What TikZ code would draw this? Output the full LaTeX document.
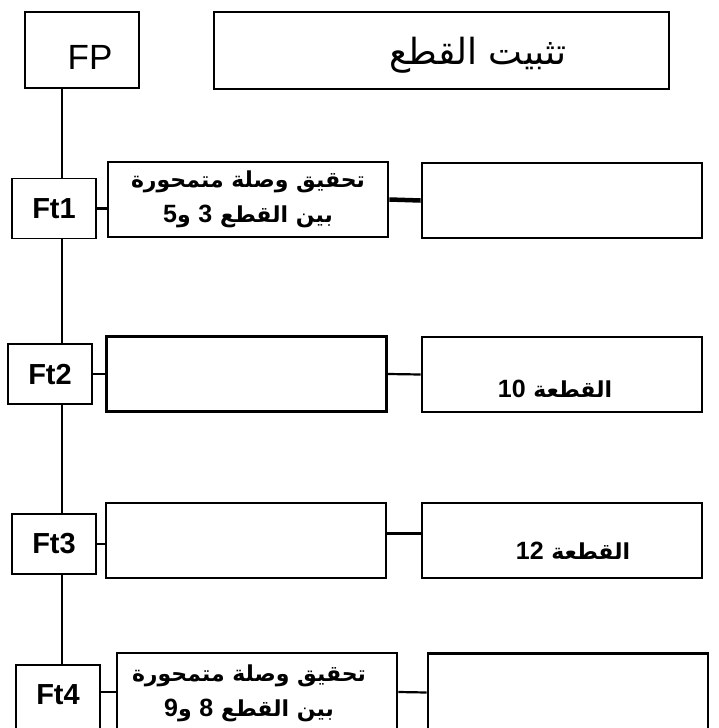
\documentclass[tikz,border=0pt]{standalone}
\usepackage{fontspec}
\setmainfont{Liberation Sans}
\newfontfamily\arabicfont[Script=Arabic]{DejaVu Sans}
\newfontfamily\digitfont{Liberation Sans}
\newcommand\dgt[1]{\beginL{\digitfont\bfseries\fontsize{25}{25}\selectfont #1}\endL}
\TeXXeTstate=1
\begin{document}
\begin{tikzpicture}[x=1pt,y=-1pt,
  topbox/.style={draw, line width=2.6pt, fill=white, inner sep=0pt},
  ftbox/.style={draw, line width=1.8pt, fill=white, inner sep=0pt, minimum width=84pt, minimum height=60pt, font=\bfseries\fontsize{29}{30}\selectfont},
  actbox/.style={draw, line width=2.8pt, fill=white, inner sep=0pt, minimum width=280pt, minimum height=75pt},
  artxt/.style={inner sep=0pt, align=center, font=\arabicfont\bfseries\fontsize{22}{35}\selectfont},
  spine/.style={line width=2.2pt},
  conn/.style={line width=2.2pt},
  thickconn/.style={line width=4.5pt}]
\useasboundingbox (0,0) rectangle (718,728);
\clip (0,0) rectangle (718,728);
\fill[white] (0,0) rectangle (718,728);
\coordinate (sp) at (62,0);
% top row
\node[topbox, minimum width=114pt, minimum height=76pt] (FP) at (82,50) {};
\node[inner sep=0pt, font=\fontsize{35}{36}\selectfont] (FPt) at (90,57) {FP};
\node[topbox, minimum width=455pt, minimum height=77pt] (T) at (441.5,50.5) {};
\node[inner sep=0pt, font=\arabicfont\fontsize{36}{40}\selectfont] (Tt) at (478,55) {\beginR تثبيت القطع\endR};
% Ft1 row
\node[ftbox] (F1) at (54,208.5) {Ft1};
\node[actbox, artxt] (A1) at (248,199.5) {\beginR تحقيق وصلة متمحورة\endR\\\beginR بين القطع \dgt{3} و\dgt{5}\endR};
\node[actbox] (B1) at (562,200.5) {};
% Ft2 row
\node[ftbox] (F2) at (50,374) {Ft2};
\node[actbox] (A2) at (246.5,374) {};
\node[actbox] (B2) at (562,374.5) {};
\node[artxt] (B2t) at (555,389) {\beginR القطعة \dgt{10}\endR};
% Ft3 row
\node[ftbox] (F3) at (54,544) {Ft3};
\node[actbox] (A3) at (246,540.5) {};
\node[actbox] (B3) at (562,540.5) {};
\node[artxt] (B3t) at (573,551) {\beginR القطعة \dgt{12}\endR};
% Ft4 row
\node[ftbox, minimum height=70pt] (F4) at (58,700) {};
\node[inner sep=0pt, font=\bfseries\fontsize{29}{30}\selectfont] (F4t) at (58,695) {Ft4};
\node[actbox, minimum height=87pt] (A4) at (257,696.5) {};
\node[artxt] (A4t) at (249,693.5) {\beginR تحقيق وصلة متمحورة\endR\\\beginR بين القطع \dgt{8} و\dgt{9}\endR};
\node[actbox, minimum height=87pt] (B4) at (568,697) {};
% spine
\draw[spine] (FP.south -| sp) -- (F1.north -| sp);
\draw[spine] (F1.south -| sp) -- (F2.north -| sp);
\draw[spine] (F2.south -| sp) -- (F3.north -| sp);
\draw[spine] (F3.south -| sp) -- (F4.north -| sp);
% connectors
\draw[conn] (F1.east) -- (F1.east -| A1.west);
\draw[thickconn] (A1.east) -- (B1.west);
\draw[conn] (F2.east) -- (F2.east -| A2.west);
\draw[conn] (A2.east) -- (B2.west);
\draw[conn] (F3.east) -- (F3.east -| A3.west);
\draw[conn] ([yshift=7pt]A3.east) -- ([yshift=7pt]B3.west);
\draw[conn] ([yshift=8pt]F4.east) -- ([yshift=8pt]F4.east -| A4.west);
\draw[conn] ([yshift=4.5pt]A4.east) -- ([yshift=4.5pt]B4.west);
\end{tikzpicture}
\end{document}
